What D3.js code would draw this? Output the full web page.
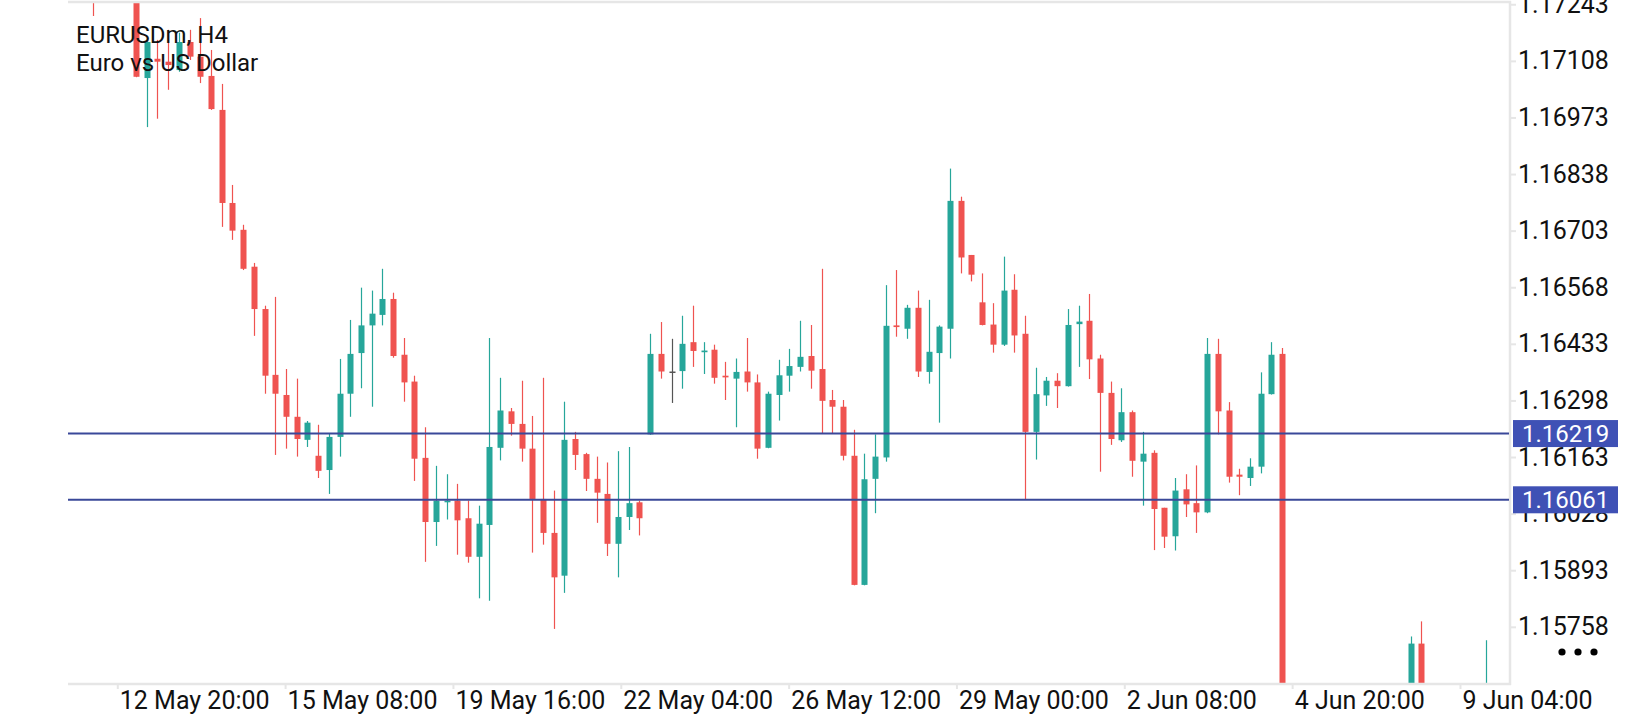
<!DOCTYPE html>
<html>
<head>
<meta charset="utf-8">
<script src="https://cdn.jsdelivr.net/npm/d3@7"></script>
<style>
  html, body { margin: 0; padding: 0; background: #fff; }
  svg { display: block; font-family: Roboto, "Noto Sans", sans-serif; }
</style>
</head>
<body>
<svg id="chart" width="1640" height="720"></svg>
<script>
// EURUSDm H4 bars, oldest first. null = bar sits fully outside the visible price range
const opens = [1.17300, null, null, null,
  1.17340, 1.17067, 1.17113, 1.17106, 1.17086, 1.17153, 1.17118, 1.17072, 1.16991, 1.16769,
  1.16705, 1.16617, 1.16516, 1.16359, 1.16311, 1.16259, 1.16204, 1.16166, 1.16132, 1.16211,
  1.16314, 1.16411, 1.16477, 1.16502, 1.16540, 1.16407, 1.16343, 1.16161, 1.16008, 1.16055,
  1.16059, 1.16017, 1.15925, 1.16001, 1.16185, 1.16272, 1.16242, 1.16183, 1.16063, 1.15982,
  1.15880, 1.16206, 1.16170, 1.16111, 1.16075, 1.15956, 1.16020, 1.16055, 1.16217, 1.16409,
  1.16367, 1.16368, 1.16437, 1.16413, 1.16419, 1.16357, 1.16350, 1.16367, 1.16341, 1.16185,
  1.16311, 1.16357, 1.16378, 1.16404, 1.16373, 1.16299, 1.16283, 1.16166, 1.15858, 1.16111,
  1.16162, 1.16477, 1.16469, 1.16519, 1.16366, 1.16411, 1.16469, 1.16774, 1.16645, 1.16532,
  1.16479, 1.16431, 1.16562, 1.16457, 1.16223, 1.16310, 1.16345, 1.16332, 1.16480, 1.16488,
  1.16398, 1.16316, 1.16203, 1.16270, 1.16152, 1.16173, 1.16042, 1.15974, 1.16086, 1.16053,
  1.16031, 1.16409, 1.16274, 1.16121, 1.16113, 1.16140, 1.16313, 1.16409,
  null, null, null, null, null, null, null, null, null, null, null,
  1.15560, 1.15718, null, null, null, null, null, 1.15560];

const highs = [1.17340, null, null, null,
  1.17365, 1.17158, 1.17158, 1.17182, 1.17175, 1.17182, 1.17210, 1.17134, 1.17053, 1.16812,
  1.16717, 1.16626, 1.16524, 1.16545, 1.16373, 1.16350, 1.16249, 1.16240, 1.16218, 1.16397,
  1.16490, 1.16567, 1.16560, 1.16612, 1.16555, 1.16447, 1.16357, 1.16234, 1.16142, 1.16122,
  1.16099, 1.16059, 1.16047, 1.16447, 1.16352, 1.16280, 1.16345, 1.16261, 1.16352, 1.16083,
  1.16295, 1.16223, 1.16173, 1.16164, 1.16150, 1.16177, 1.16187, 1.16059, 1.16457, 1.16485,
  1.16445, 1.16500, 1.16524, 1.16437, 1.16431, 1.16390, 1.16398, 1.16447, 1.16360, 1.16319,
  1.16395, 1.16421, 1.16488, 1.16478, 1.16612, 1.16323, 1.16299, 1.16228, 1.16171, 1.16217,
  1.16573, 1.16609, 1.16526, 1.16560, 1.16538, 1.16477, 1.16851, 1.16784, 1.16645, 1.16601,
  1.16530, 1.16641, 1.16599, 1.16500, 1.16376, 1.16354, 1.16363, 1.16516, 1.16524, 1.16552,
  1.16407, 1.16343, 1.16327, 1.16274, 1.16223, 1.16179, 1.16042, 1.16113, 1.16122, 1.16143,
  1.16447, 1.16445, 1.16294, 1.16135, 1.16160, 1.16365, 1.16437, 1.16423,
  null, null, null, null, null, null, null, null, null, null, null,
  1.15735, 1.15771, null, null, null, null, null, 1.15726];

const lows = [1.17215, null, null, null,
  1.17069, 1.16950, 1.16970, 1.17039, 1.17082, 1.17110, 1.17055, 1.16991, 1.16712, 1.16681,
  1.16609, 1.16452, 1.16314, 1.16168, 1.16183, 1.16164, 1.16187, 1.16113, 1.16075, 1.16164,
  1.16259, 1.16327, 1.16283, 1.16477, 1.16400, 1.16295, 1.16106, 1.15913, 1.15951, 1.16014,
  1.15930, 1.15911, 1.15826, 1.15820, 1.16155, 1.16214, 1.16152, 1.15935, 1.15954, 1.15753,
  1.15839, 1.16132, 1.16082, 1.16006, 1.15927, 1.15876, 1.15989, 1.15976, 1.16216, 1.16350,
  1.16292, 1.16326, 1.16378, 1.16361, 1.16338, 1.16299, 1.16234, 1.16319, 1.16159, 1.16184,
  1.16250, 1.16319, 1.16367, 1.16326, 1.16219, 1.16219, 1.16155, 1.15857, 1.15857, 1.16029,
  1.16152, 1.16450, 1.16445, 1.16354, 1.16338, 1.16245, 1.16398, 1.16601, 1.16582, 1.16477,
  1.16412, 1.16428, 1.16412, 1.16061, 1.16157, 1.16285, 1.16280, 1.16331, 1.16378, 1.16349,
  1.16128, 1.16192, 1.16199, 1.16116, 1.16047, 1.15941, 1.15946, 1.15940, 1.16020, 1.15982,
  1.16029, 1.16217, 1.16102, 1.16072, 1.16094, 1.16124, 1.16312, 1.15480,
  null, null, null, null, null, null, null, null, null, null, null,
  1.15530, 1.15550, null, null, null, null, null, 1.15540];

const closes = [1.17262, null, null, null,
  1.17070, 1.17153, 1.17106, 1.17098, 1.17153, 1.17118, 1.17070, 1.16993, 1.16769, 1.16703,
  1.16612, 1.16516, 1.16357, 1.16314, 1.16259, 1.16206, 1.16245, 1.16130, 1.16211, 1.16314,
  1.16409, 1.16477, 1.16505, 1.16540, 1.16404, 1.16341, 1.16159, 1.16008, 1.16059, 1.16059,
  1.16012, 1.15925, 1.16004, 1.16187, 1.16274, 1.16242, 1.16183, 1.16063, 1.15982, 1.15876,
  1.16204, 1.16168, 1.16111, 1.16078, 1.15956, 1.16020, 1.16053, 1.16017, 1.16409, 1.16367,
  1.16367, 1.16433, 1.16416, 1.16417, 1.16352, 1.16353, 1.16366, 1.16341, 1.16183, 1.16314,
  1.16358, 1.16380, 1.16402, 1.16369, 1.16297, 1.16283, 1.16166, 1.15858, 1.16110, 1.16164,
  1.16476, 1.16473, 1.16519, 1.16367, 1.16414, 1.16474, 1.16774, 1.16639, 1.16598, 1.16478,
  1.16431, 1.16560, 1.16453, 1.16223, 1.16313, 1.16345, 1.16332, 1.16478, 1.16486, 1.16396,
  1.16316, 1.16206, 1.16270, 1.16154, 1.16171, 1.16039, 1.15973, 1.16083, 1.16050, 1.16031,
  1.16409, 1.16272, 1.16116, 1.16116, 1.16140, 1.16314, 1.16407, 1.15520,
  null, null, null, null, null, null, null, null, null, null, null,
  1.15718, 1.15580, null, null, null, null, null, 1.15610];

// price scale labels on the right
const priceTicks = [1.17243, 1.17108, 1.16973, 1.16838, 1.16703, 1.16568, 1.16433,
  1.16298, 1.16163, 1.16028, 1.15893, 1.15758];

// time labels and the bar position (fractional) where each one sits
const timeLabels = ["12 May 20:00", "15 May 08:00", "19 May 16:00", "22 May 04:00",
  "26 May 12:00", "29 May 00:00", "2 Jun 08:00", "4 Jun 20:00", "9 Jun 04:00"];
const timeTickPos = [2.25, 17.92, 33.59, 49.26, 64.93, 80.6, 96.27, 111.94, 127.61];

// horizontal levels drawn on the chart
const levels = [1.16219, 1.16061];

const title = ["EURUSDm, H4", "Euro vs US Dollar"];

const bars = opens.map((o, i) => ({
  i: i, open: o, high: highs[i], low: lows[i], close: closes[i]
})).filter(d => d.open !== null);

const plot = { left: 68, right: 1510, top: 3, bottom: 683 };
const upColor = "#26a69a", downColor = "#ef5350", flatColor = "#555555";
const borderColor = "#e6e6e6";

const svg = d3.select("#chart");

const x = d3.scaleLinear().domain([-2.35, 132.28]).range([plot.left, plot.right]);
const y = d3.scaleLinear().domain([1.15624, 1.17246]).range([plot.bottom, plot.top]);

svg.append("defs").append("clipPath").attr("id", "plotClip")
  .append("rect")
  .attr("x", plot.left).attr("y", plot.top)
  .attr("width", plot.right - plot.left).attr("height", plot.bottom - plot.top);

function barColor(d) {
  if (d.close > d.open) return upColor;
  if (d.close < d.open) return downColor;
  return flatColor;
}

const candles = svg.append("g").attr("clip-path", "url(#plotClip)");

// wicks
candles.selectAll(".wick")
  .data(bars)
  .enter().append("line")
  .attr("class", "wick")
  .attr("x1", d => Math.round(x(d.i)) + 0.5)
  .attr("x2", d => Math.round(x(d.i)) + 0.5)
  .attr("y1", d => y(d.high))
  .attr("y2", d => y(d.low))
  .attr("stroke", barColor)
  .attr("stroke-width", 1.2);

// bodies
const bodyW = 6;
candles.selectAll(".body")
  .data(bars)
  .enter().append("rect")
  .attr("class", "body")
  .attr("x", d => Math.round(x(d.i)) + 0.5 - bodyW / 2)
  .attr("width", bodyW)
  .attr("y", d => y(Math.max(d.open, d.close)))
  .attr("height", d => Math.max(1.5, Math.abs(y(d.open) - y(d.close))))
  .attr("fill", barColor);

// frame: top, bottom and right edges
svg.append("line")
  .attr("x1", plot.left).attr("x2", plot.right + 1)
  .attr("y1", 2).attr("y2", 2)
  .attr("stroke", borderColor).attr("stroke-width", 2.5);
svg.append("line")
  .attr("x1", plot.left).attr("x2", plot.right + 1)
  .attr("y1", plot.bottom + 1).attr("y2", plot.bottom + 1)
  .attr("stroke", borderColor).attr("stroke-width", 2.5);
svg.append("line")
  .attr("x1", plot.right).attr("x2", plot.right)
  .attr("y1", 1).attr("y2", plot.bottom + 2)
  .attr("stroke", borderColor).attr("stroke-width", 2.5);

// price axis
const yAxis = svg.append("g")
  .attr("transform", "translate(" + (plot.right + 1) + ",0)")
  .call(d3.axisRight(y)
    .tickValues(priceTicks)
    .tickFormat(d3.format(".5f"))
    .tickSize(5)
    .tickPadding(2));
yAxis.select(".domain").remove();
yAxis.selectAll(".tick line").attr("stroke", borderColor).attr("stroke-width", 2);
yAxis.selectAll(".tick text")
  .attr("fill", "#111")
  .attr("font-size", 25)
  .attr("font-family", "Roboto, sans-serif");

// time axis
const xAxis = svg.append("g")
  .attr("transform", "translate(0," + (plot.bottom + 1) + ")")
  .call(d3.axisBottom(x)
    .tickValues(timeTickPos)
    .tickFormat((d, i) => timeLabels[i])
    .tickSize(5));
xAxis.select(".domain").remove();
xAxis.selectAll(".tick line").attr("stroke", borderColor).attr("stroke-width", 2);
xAxis.selectAll(".tick text")
  .attr("text-anchor", "start")
  .attr("x", 2)
  .attr("y", 25)
  .attr("dy", 0)
  .attr("fill", "#111")
  .attr("font-size", 25)
  .attr("font-family", "Roboto, sans-serif");

// level lines and their price tags
svg.selectAll(".level")
  .data(levels)
  .enter().append("line")
  .attr("class", "level")
  .attr("x1", plot.left).attr("x2", plot.right - 1)
  .attr("y1", d => y(d)).attr("y2", d => y(d))
  .attr("stroke", "#3a4899")
  .attr("stroke-width", 2);

const tags = svg.selectAll(".tag")
  .data(levels)
  .enter().append("g")
  .attr("class", "tag")
  .attr("transform", d => "translate(" + (plot.right + 3) + "," + y(d) + ")");
tags.append("rect")
  .attr("x", 0).attr("y", -13.5)
  .attr("width", 105).attr("height", 27)
  .attr("fill", "#3f51b5");
tags.append("text")
  .attr("x", 9).attr("dy", "0.35em")
  .attr("fill", "#fff")
  .attr("font-size", 24)
  .text(d => d3.format(".5f")(d));

// symbol caption
svg.append("g").selectAll("text")
  .data(title)
  .enter().append("text")
  .attr("x", 76)
  .attr("y", (d, i) => 43 + i * 28)
  .attr("fill", "#111")
  .attr("font-size", 24)
  .text(d => d);

// "more" marker under the price scale
svg.append("g").selectAll("circle")
  .data([0, 1, 2])
  .enter().append("circle")
  .attr("cx", d => 1562 + d * 16)
  .attr("cy", 652)
  .attr("r", 3.6)
  .attr("fill", "#000");
</script>
</body>
</html>
